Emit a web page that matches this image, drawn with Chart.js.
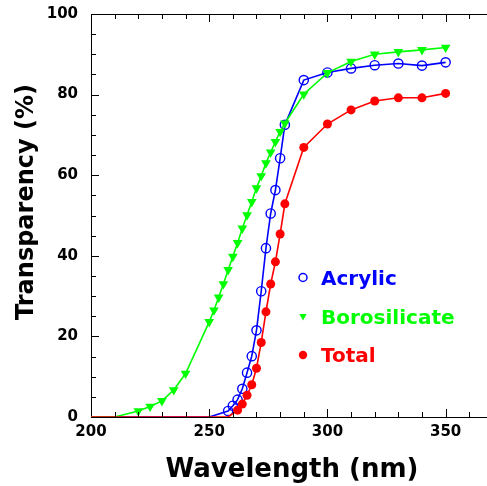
<!DOCTYPE html>
<html>
<head>
<meta charset="utf-8">
<script src="https://cdn.jsdelivr.net/npm/chart.js@4.4.1/dist/chart.umd.min.js"></script>
<style>
  body { margin: 0; background: #fff; overflow: hidden; }
  #wrap { width: 487px; height: 486px; }
</style>
</head>
<body>
<div id="wrap"><canvas id="grafico"></canvas></div>
<script>
// values
const wavelengthAcrylic = [200, 250, 258, 260, 262, 264, 266, 268, 270, 272, 274, 276, 278, 280, 282, 290, 300, 310, 320, 330, 340, 350];
const acrylic = [0, 0, 1.5, 2.8, 4.3, 7.0, 11.0, 15.1, 21.5, 31.2, 41.9, 50.5, 56.3, 64.2, 72.5, 83.6, 85.5, 86.5, 87.3, 87.7, 87.2, 88.0];

const wavelengthBoro = [200, 210, 220, 225, 230, 235, 240, 250, 252, 254, 256, 258, 260, 262, 264, 266, 268, 270, 272, 274, 276, 278, 280, 282, 290, 300, 310, 320, 330, 340, 350];
const borosilicate = [0, 0, 1.5, 2.6, 4.0, 6.7, 10.8, 23.6, 26.5, 29.7, 33.0, 36.5, 39.8, 43.2, 46.8, 50.1, 53.4, 56.8, 59.8, 63.0, 65.7, 68.3, 70.8, 72.9, 80.1, 85.4, 88.2, 90.0, 90.6, 91.1, 91.7];

const wavelengthTotal = [200, 258, 262, 264, 266, 268, 270, 272, 274, 276, 278, 280, 282, 290, 300, 310, 320, 330, 340, 350];
const total = [0, 0, 1.7, 3.2, 5.4, 8.0, 12.1, 18.5, 26.1, 33.0, 38.5, 45.4, 52.9, 66.9, 72.7, 76.2, 78.4, 79.2, 79.2, 80.3];

const seriesNames = ['Acrylic', 'Borosilicate', 'Total'];
const xTitle = 'Wavelength (nm)';
const yTitle = 'Transparency (%)';

const FONT = 'DejaVu Sans';

function pares(xs, ys) {
    return xs.map((x, i) => ({ x: x, y: ys[i] }));
}

function raio(r) {
    return ctx => (ctx.raw && ctx.raw.y >= 1 ? r : 0);
}

// frame, inward ticks, axis titles and the legend in the plot
const moldura = {
    id: 'moldura',
    afterDraw(chart) {
        const ctx = chart.ctx;
        const a = chart.chartArea;
        const sx = chart.scales.x;
        const sy = chart.scales.y;
        ctx.save();
        ctx.strokeStyle = '#000';
        ctx.lineWidth = 1;

        ctx.beginPath();
        ctx.moveTo(a.left, a.top + 0.5);
        ctx.lineTo(a.right, a.top + 0.5);
        for (let v = 0; v <= 100; v += 5) {
            const py = Math.round(sy.getPixelForValue(v)) + 0.5;
            const len = v % 20 === 0 ? 8 : 5;
            ctx.moveTo(a.left, py);
            ctx.lineTo(a.left + len, py);
        }
        for (let v = 210; v <= sx.max; v += 10) {
            const px = Math.round(sx.getPixelForValue(v)) + 0.5;
            const len = v % 50 === 0 ? 8 : 5;
            ctx.moveTo(px, a.bottom);
            ctx.lineTo(px, a.bottom - len);
            ctx.moveTo(px, a.top);
            ctx.lineTo(px, a.top + len);
        }
        ctx.stroke();

        // titles
        ctx.fillStyle = '#000';
        ctx.textAlign = 'center';
        ctx.textBaseline = 'alphabetic';
        ctx.font = 'bold 26px "' + FONT + '"';
        ctx.fillText(xTitle, 292, 477);
        ctx.save();
        ctx.translate(33, 202);
        ctx.rotate(-Math.PI / 2);
        ctx.font = 'bold 24px "' + FONT + '"';
        ctx.fillText(yTitle, 0, 0);
        ctx.restore();

        // legend
        const lx = 303;
        const ly = [277.5, 316.5, 355];
        ctx.textAlign = 'left';
        ctx.font = 'bold 20px "' + FONT + '"';

        ctx.strokeStyle = '#0000ff';
        ctx.lineWidth = 1.5;
        ctx.beginPath();
        ctx.arc(lx, ly[0], 4, 0, Math.PI * 2);
        ctx.stroke();

        ctx.fillStyle = '#00ff00';
        ctx.beginPath();
        ctx.moveTo(lx - 3.6, ly[1] - 2.5);
        ctx.lineTo(lx + 3.6, ly[1] - 2.5);
        ctx.lineTo(lx, ly[1] + 4);
        ctx.closePath();
        ctx.fill();

        ctx.fillStyle = '#ff0000';
        ctx.beginPath();
        ctx.arc(lx, ly[2], 4.2, 0, Math.PI * 2);
        ctx.fill();

        const cores = ['#0000ff', '#00ff00', '#ff0000'];
        for (let i = 0; i < seriesNames.length; i++) {
            ctx.fillStyle = cores[i];
            ctx.fillText(seriesNames[i], 321, ly[i] + 7.3);
        }
        ctx.restore();
    }
};

new Chart(document.getElementById('grafico'), {
    type: 'line',
    data: {
        datasets: [
            {
                label: seriesNames[0],
                data: pares(wavelengthAcrylic, acrylic),
                borderColor: '#0000ff',
                backgroundColor: 'rgba(0,0,0,0)',
                borderWidth: 1.6,
                pointStyle: 'circle',
                pointRadius: raio(4.6),
                pointBorderWidth: 1.4,
                pointBorderColor: '#0000ff',
                pointBackgroundColor: 'rgba(0,0,0,0)',
                order: 2
            },
            {
                label: seriesNames[1],
                data: pares(wavelengthBoro, borosilicate),
                borderColor: '#00ff00',
                backgroundColor: '#00ff00',
                borderWidth: 1.6,
                pointStyle: 'triangle',
                pointRotation: 180,
                pointRadius: raio(5.6),
                pointBorderWidth: 0,
                pointBackgroundColor: '#00ff00',
                order: 1
            },
            {
                label: seriesNames[2],
                data: pares(wavelengthTotal, total),
                borderColor: '#ff0000',
                backgroundColor: '#ff0000',
                borderWidth: 1.6,
                pointStyle: 'circle',
                pointRadius: raio(4.5),
                pointBorderWidth: 0,
                pointBackgroundColor: '#ff0000',
                order: 0
            }
        ]
    },
    options: {
        responsive: true,
        maintainAspectRatio: false,
        animation: false,
        layout: { autoPadding: false, padding: { top: 14, left: 0, right: 0, bottom: 0 } },
        plugins: {
            legend: { display: false },
            tooltip: { enabled: false }
        },
        scales: {
            x: {
                type: 'linear',
                min: 200,
                max: 367.5,
                grid: { display: true, drawOnChartArea: false, drawTicks: false },
                border: { display: true, color: '#000', width: 1 },
                ticks: {
                    stepSize: 50,
                    includeBounds: false,
                    padding: 6,
                    color: '#000',
                    maxRotation: 0,
                    font: { family: FONT, weight: 'bold', size: 15 }
                },
                afterFit: scale => {
                    scale.height = 69;
                    scale.paddingLeft = 0;
                    scale.paddingRight = 0;
                }
            },
            y: {
                min: 0,
                max: 100,
                grid: { display: true, drawOnChartArea: false, drawTicks: false },
                border: { display: true, color: '#000', width: 1 },
                ticks: {
                    stepSize: 20,
                    padding: 13,
                    color: '#000',
                    font: { family: FONT, weight: 'bold', size: 15 }
                },
                afterFit: scale => {
                    scale.width = 91;
                    scale.paddingTop = 0;
                    scale.paddingBottom = 0;
                }
            }
        }
    },
    plugins: [moldura]
});
</script>
</body>
</html>
